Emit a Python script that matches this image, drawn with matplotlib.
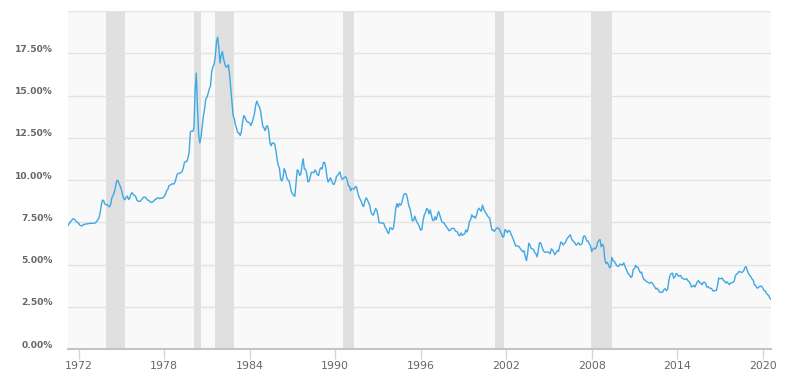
import matplotlib
matplotlib.use("Agg")
import matplotlib.pyplot as plt
import matplotlib.transforms as mtransforms
import numpy as np
from matplotlib.ticker import FuncFormatter

# 30-year fixed mortgage rate, monthly averages, Apr 1971 .. Aug 2020
first_year, first_month = 1971, 4
rates = [
    7.31, 7.43, 7.53, 7.60, 7.70, 7.69, 7.63, 7.55, 7.48,                      # 1971
    7.44, 7.32, 7.29, 7.29, 7.37, 7.37, 7.40, 7.40, 7.42, 7.43, 7.44, 7.44,    # 1972
    7.44, 7.44, 7.46, 7.54, 7.65, 7.73, 8.05, 8.50, 8.82, 8.77, 8.58, 8.54,    # 1973
    8.54, 8.46, 8.41, 8.58, 8.97, 9.09, 9.28, 9.59, 9.96, 9.98, 9.79, 9.62,    # 1974
    9.43, 9.10, 8.89, 8.83, 8.99, 9.05, 8.84, 8.95, 9.17, 9.25, 9.12, 9.10,    # 1975
    9.02, 8.81, 8.76, 8.73, 8.76, 8.85, 8.93, 9.00, 8.98, 8.92, 8.81, 8.79,    # 1976
    8.72, 8.67, 8.69, 8.75, 8.83, 8.86, 8.94, 8.94, 8.90, 8.92, 8.92, 8.96,    # 1977
    9.01, 9.15, 9.35, 9.44, 9.66, 9.70, 9.74, 9.78, 9.76, 9.86, 10.11, 10.35,  # 1978
    10.39, 10.41, 10.43, 10.50, 10.69, 11.04, 11.09, 11.09, 11.30, 11.64, 12.83, 12.90,  # 1979
    12.88, 13.04, 15.28, 16.32, 14.26, 12.71, 12.19, 12.56, 13.20, 13.79, 14.21, 14.79,  # 1980
    14.90, 15.13, 15.40, 15.58, 16.40, 16.70, 16.83, 17.29, 18.16, 18.45, 17.83, 16.92,  # 1981
    17.40, 17.60, 17.16, 16.89, 16.68, 16.70, 16.82, 16.27, 15.43, 14.61, 13.82, 13.62,  # 1982
    13.25, 13.04, 12.80, 12.78, 12.63, 12.87, 13.42, 13.81, 13.73, 13.54, 13.44, 13.42,  # 1983
    13.37, 13.23, 13.39, 13.65, 13.94, 14.42, 14.67, 14.47, 14.35, 14.13, 13.64, 13.18,  # 1984
    13.08, 12.92, 13.17, 13.20, 12.91, 12.22, 12.03, 12.19, 12.19, 12.14, 11.78, 11.26,  # 1985
    10.88, 10.71, 10.08, 9.94, 10.14, 10.68, 10.51, 10.20, 10.01, 9.97, 9.70, 9.31,      # 1986
    9.20, 9.08, 9.04, 9.83, 10.60, 10.54, 10.28, 10.33, 10.89, 11.26, 10.65, 10.64,      # 1987
    10.38, 9.89, 9.93, 10.20, 10.46, 10.46, 10.43, 10.60, 10.48, 10.30, 10.27, 10.61,    # 1988
    10.73, 10.65, 11.03, 11.05, 10.77, 10.20, 9.88, 9.99, 10.13, 9.95, 9.77, 9.74,       # 1989
    9.90, 10.20, 10.27, 10.37, 10.48, 10.16, 10.04, 10.10, 10.18, 10.18, 10.01, 9.67,    # 1990
    9.64, 9.37, 9.50, 9.49, 9.47, 9.62, 9.58, 9.24, 9.01, 8.86, 8.71, 8.50,              # 1991
    8.43, 8.76, 8.94, 8.85, 8.67, 8.51, 8.13, 7.98, 7.92, 8.09, 8.31, 8.22,              # 1992
    7.91, 7.47, 7.47, 7.45, 7.47, 7.42, 7.21, 7.11, 6.92, 6.83, 7.16, 7.17,              # 1993
    7.06, 7.15, 7.68, 8.32, 8.60, 8.40, 8.61, 8.51, 8.64, 8.93, 9.17, 9.20,              # 1994
    9.15, 8.83, 8.46, 8.32, 7.96, 7.57, 7.61, 7.86, 7.64, 7.48, 7.38, 7.20,              # 1995
    7.03, 7.08, 7.62, 7.93, 8.07, 8.32, 8.25, 8.00, 8.23, 7.92, 7.62, 7.60,              # 1996
    7.82, 7.65, 7.90, 8.14, 7.94, 7.69, 7.50, 7.48, 7.43, 7.29, 7.21, 7.10,              # 1997
    6.99, 7.04, 7.13, 7.14, 7.14, 7.00, 6.95, 6.92, 6.72, 6.71, 6.87, 6.72,              # 1998
    6.79, 6.81, 7.04, 6.92, 7.15, 7.55, 7.63, 7.94, 7.82, 7.85, 7.74, 7.91,              # 1999
    8.21, 8.33, 8.24, 8.15, 8.52, 8.29, 8.15, 8.03, 7.91, 7.80, 7.75, 7.38,              # 2000
    7.03, 7.05, 6.95, 7.08, 7.15, 7.16, 7.13, 6.95, 6.82, 6.62, 6.66, 7.07,              # 2001
    7.00, 6.89, 7.01, 6.99, 6.81, 6.65, 6.49, 6.29, 6.09, 6.11, 6.07, 6.05,              # 2002
    5.92, 5.84, 5.75, 5.81, 5.48, 5.23, 5.63, 6.26, 6.15, 5.95, 5.93, 5.88,              # 2003
    5.71, 5.64, 5.45, 5.83, 6.27, 6.29, 6.06, 5.87, 5.75, 5.72, 5.73, 5.75,              # 2004
    5.71, 5.63, 5.93, 5.86, 5.72, 5.58, 5.70, 5.82, 5.77, 6.07, 6.33, 6.27,              # 2005
    6.15, 6.25, 6.32, 6.51, 6.60, 6.68, 6.76, 6.52, 6.40, 6.36, 6.24, 6.14,              # 2006
    6.22, 6.29, 6.16, 6.18, 6.26, 6.66, 6.70, 6.57, 6.38, 6.38, 6.21, 6.10,              # 2007
    5.76, 5.92, 5.97, 5.92, 6.04, 6.32, 6.43, 6.48, 6.04, 6.20, 6.09, 5.33,              # 2008
    5.06, 5.13, 5.00, 4.81, 4.86, 5.42, 5.22, 5.19, 5.06, 4.95, 4.88, 4.93,              # 2009
    5.03, 4.99, 4.97, 5.10, 4.89, 4.74, 4.56, 4.43, 4.35, 4.23, 4.30, 4.71,              # 2010
    4.76, 4.95, 4.84, 4.84, 4.64, 4.51, 4.55, 4.27, 4.11, 4.07, 3.99, 3.96,              # 2011
    3.92, 3.89, 3.95, 3.91, 3.80, 3.68, 3.55, 3.60, 3.50, 3.38, 3.35, 3.35,              # 2012
    3.41, 3.53, 3.57, 3.45, 3.54, 4.07, 4.37, 4.46, 4.49, 4.19, 4.26, 4.46,              # 2013
    4.43, 4.30, 4.34, 4.34, 4.19, 4.16, 4.13, 4.12, 4.16, 4.04, 4.00, 3.86,              # 2014
    3.67, 3.71, 3.77, 3.67, 3.84, 3.98, 4.05, 3.91, 3.89, 3.80, 3.94, 3.96,              # 2015
    3.87, 3.66, 3.69, 3.61, 3.60, 3.57, 3.44, 3.44, 3.46, 3.47, 3.77, 4.20,              # 2016
    4.15, 4.17, 4.20, 4.05, 4.01, 3.90, 3.97, 3.88, 3.81, 3.90, 3.92, 3.95,              # 2017
    4.03, 4.33, 4.44, 4.47, 4.59, 4.57, 4.53, 4.55, 4.63, 4.83, 4.87, 4.64,              # 2018
    4.46, 4.37, 4.27, 4.14, 4.07, 3.80, 3.77, 3.62, 3.61, 3.69, 3.70, 3.72,              # 2019
    3.62, 3.47, 3.45, 3.31, 3.23, 3.16, 3.02, 2.94,                                      # 2020
]

# recession bands (decimal years)
rec_start = [1973.92, 1980.08, 1981.58, 1990.53, 2001.19, 2007.95]
rec_end = [1975.27, 1980.58, 1982.92, 1991.33, 2001.85, 2009.43]

tick_years = list(range(1972, 2021, 6))
y_ticks = [0, 2.5, 5, 7.5, 10, 12.5, 15, 17.5, 20]

t = first_year + (first_month - 1) / 12 + np.arange(len(rates)) / 12

fig = plt.figure(figsize=(8.04, 3.88), dpi=100)
ax = fig.add_axes([0.0846, 0.1005, 0.8744, 0.8711])
ax.set_facecolor("#f9f9f9")

for s, e in zip(rec_start, rec_end):
    ax.axvspan(s, e, color="#e0e0e0", lw=0, zorder=1)

ax.plot(t, rates, color="#3fa7e4", lw=1.0, zorder=3)

ax.set_xlim(t[0], t[-1])
ax.set_ylim(0, 20)
ax.set_yticks(y_ticks)
ax.set_xticks(tick_years)
ax.yaxis.set_major_formatter(FuncFormatter(lambda v, p: "" if v >= 20 else f"{v:.2f}%"))
ax.grid(axis="y", color="#e3e3e3", lw=1, zorder=2)
ax.set_axisbelow(False)

for side in ["top", "right", "left"]:
    ax.spines[side].set_visible(False)
ax.spines["bottom"].set_color("#c4c4c4")
ax.spines["bottom"].set_linewidth(1.5)
ax.spines["bottom"].set_zorder(4)

ax.tick_params(axis="y", length=0, pad=11, labelsize=6.6, labelcolor="#666666")
ax.tick_params(axis="x", length=7, width=1, color="#ccd6eb", pad=1.5, labelsize=7.9, labelcolor="#666666")

# y labels sit a little above their grid lines
lift = mtransforms.ScaledTranslation(0, 5 / 100, fig.dpi_scale_trans)
for tick in ax.yaxis.get_major_ticks():
    tick.label1.set_fontweight("bold")
    tick.label1.set_transform(tick.label1.get_transform() + lift)

fig.savefig("out.png", dpi=100)
